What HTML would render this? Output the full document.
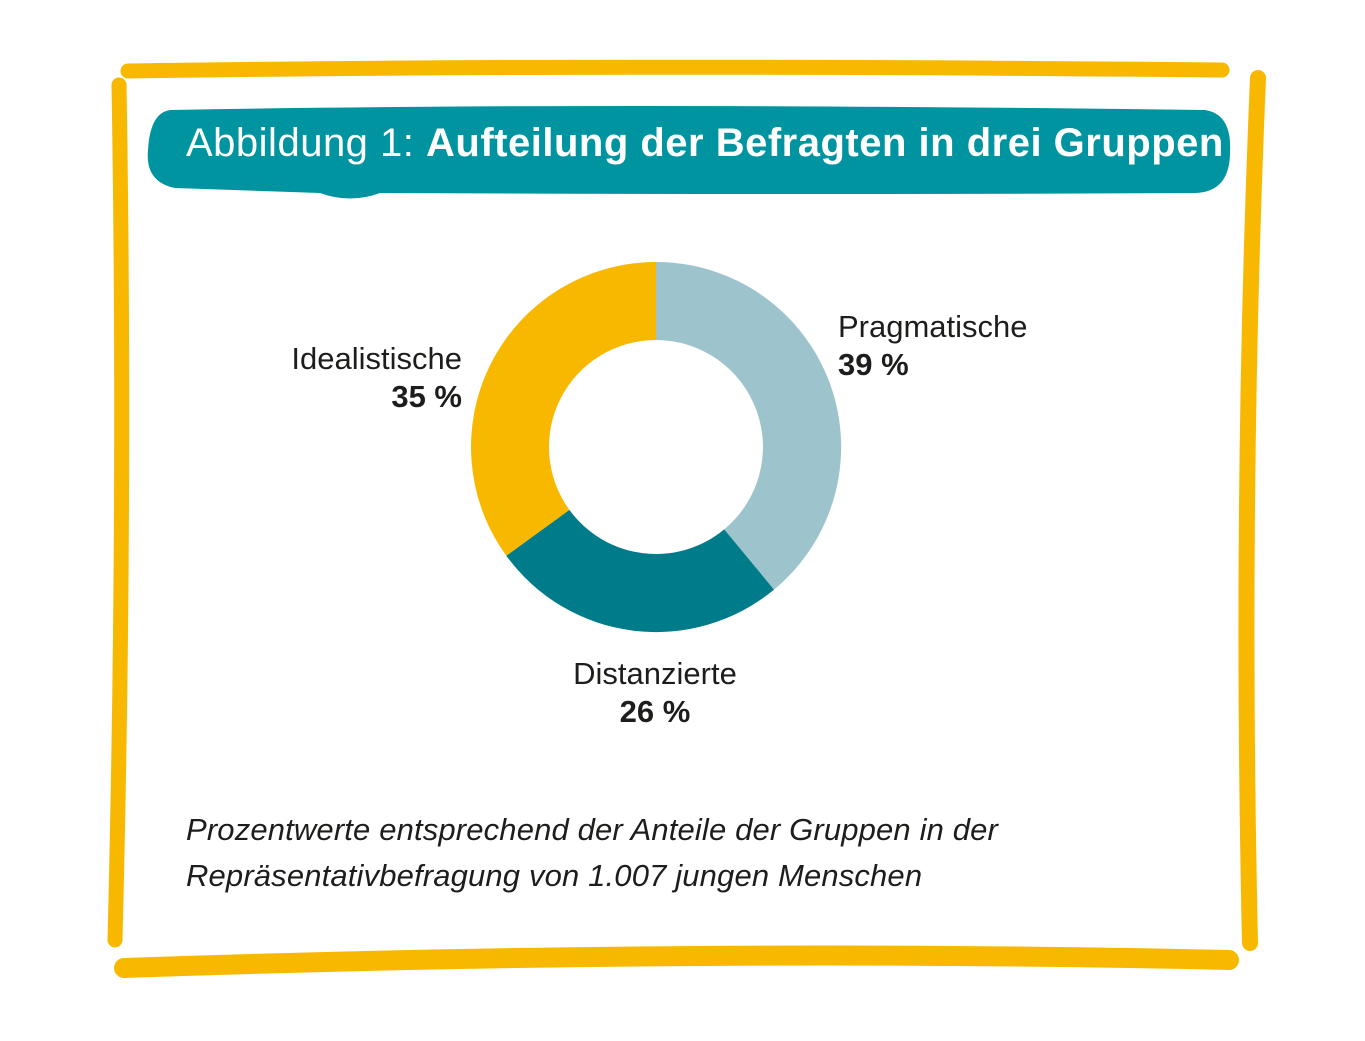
<!DOCTYPE html>
<html><head><meta charset="utf-8"><style>
html,body{margin:0;padding:0;background:#fff;}
body{width:1365px;height:1041px;position:relative;overflow:hidden;font-family:"Liberation Sans",sans-serif;}
.t{position:absolute;color:#1d1d1b;white-space:nowrap;}
</style></head><body>
<svg width="1365" height="1041" style="position:absolute;left:0;top:0">
<g stroke="#F9B800" stroke-linecap="round" fill="none">
<path d="M128 71 Q600 64 1222 70" stroke-width="15"/>
<path d="M119 85 Q126 500 115 940" stroke-width="15"/>
<path d="M1258 78 Q1240 500 1250 943" stroke-width="16"/>
<path d="M124 968 Q700 948 1229 960" stroke-width="20"/>
</g>
<path d="M170 110 Q600 102 1205 110 Q1232 114 1230 152 Q1230 192 1195 193 Q800 195 380 193 Q350 204 320 193 L175 188 Q145 182 148 150 Q150 113 170 110 Z" fill="#0093A0"/>
<g transform="translate(656,447)">
<path d="M0 -185 A185 185 0 0 1 118 142.6 L68.2 82.4 A107 107 0 0 0 0 -107 Z" fill="#9DC4CC"/>
<path d="M118 142.6 A185 185 0 0 1 -149.7 108.7 L-86.6 62.9 A107 107 0 0 0 68.2 82.4 Z" fill="#007B8A"/>
<path d="M-149.7 108.7 A185 185 0 0 1 0 -185 L0 -107 A107 107 0 0 0 -86.6 62.9 Z" fill="#F9B800"/>
</g>
</svg>
<div class="t" style="left:186px;top:121px;font-size:40px;color:#fff;letter-spacing:0.5px;">Abbildung 1: <b>Aufteilung der Befragten in drei Gruppen</b></div>
<div class="t" style="left:838px;top:308px;font-size:31px;line-height:38px;">Pragmatische<br><b>39 %</b></div>
<div class="t" style="left:262px;top:340px;font-size:31px;line-height:38px;text-align:right;width:200px;">Idealistische<br><b>35 %</b></div>
<div class="t" style="left:555px;top:655px;font-size:31px;line-height:38px;text-align:center;width:200px;">Distanzierte<br><b>26 %</b></div>
<div class="t" style="left:186px;top:807px;font-size:31px;line-height:46px;font-style:italic;letter-spacing:0.15px;">Prozentwerte entsprechend der Anteile der Gruppen in der<br>Repräsentativbefragung von 1.007 jungen Menschen</div>
</body></html>
